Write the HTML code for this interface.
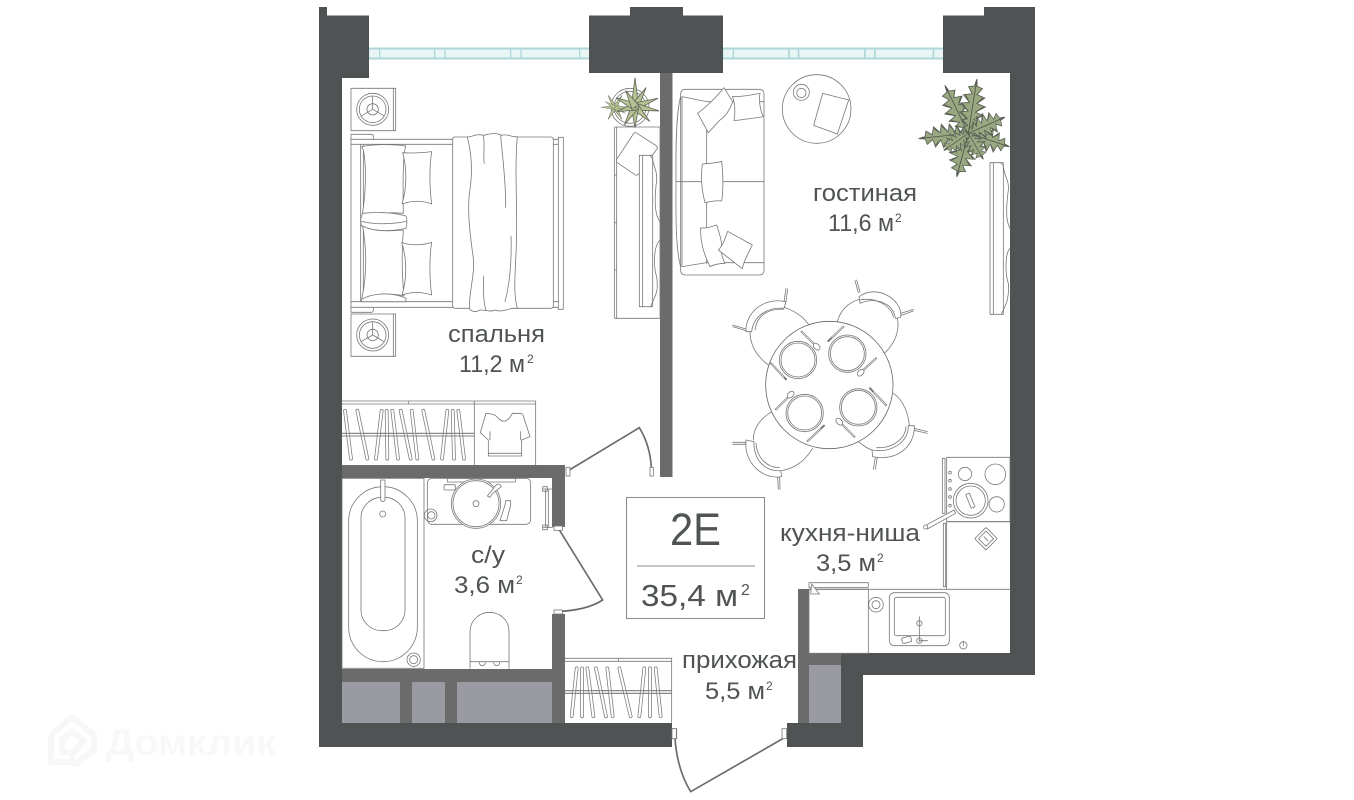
<!DOCTYPE html>
<html lang="ru"><head><meta charset="utf-8"><title>2E</title>
<style>html,body{margin:0;padding:0;background:#fff;width:1354px;height:800px;overflow:hidden}svg{display:block}
text{font-family:"Liberation Sans",sans-serif;fill:#4f5354}
.l{fill:none;stroke:#777;stroke-width:2.4;stroke-linejoin:round;stroke-linecap:round}
.w{fill:#fff}
</style></head><body>
<svg width="1354" height="800" viewBox="0 0 1354 800" xmlns="http://www.w3.org/2000/svg">
<defs>
<path id="f" d="M0 0 L10 -8 L14 -3 L22 -14 L26 -5 L36 -19 L40 -6 L52 -20 L56 -6 L68 -17 L72 -4 L84 -11 L87 -2 L100 0 L87 2 L84 11 L72 4 L68 17 L56 6 L52 20 L40 6 L36 19 L26 5 L22 14 L14 3 L10 8Z M0 0 H96 M14 -3 L22 -12 M26 -5 L36 -16 M40 -6 L52 -17 M56 -6 L68 -14 M14 3 L22 12 M26 5 L36 16 M40 6 L52 17 M56 6 L68 14" fill="#9aa881" stroke="#565c52" stroke-width="1.500"/>
<path id="s" d="M0 -7 L70 0 L0 7Z" fill="#b6c292" stroke="#5f6358" stroke-width="1.500"/>
<g id="ns"><rect x="0" y="0" width="134" height="127" class="l"/><path d="M127 0V127" class="l"/><circle cx="65" cy="63" r="48" class="l"/><circle cx="65" cy="63" r="40" class="l"/><circle cx="65" cy="63" r="17" class="l"/><path d="M65 25V63L32 82M65 63L98 82" class="l"/></g>
</defs>

<!-- watermark -->
<g fill="none" stroke="#f7f7f7" stroke-width="6" stroke-linejoin="round"><path d="M51 735 L72 717 L94 735 V750 L76 764 H72 M51 735 V762 H72 V752 H62 V740 L72 731 L84 741 L74 752"/></g>
<text x="106" y="755" font-size="37" font-weight="bold" textLength="170" lengthAdjust="spacingAndGlyphs" style="fill:#f8f8f8">Домклик</text>

<!-- windows -->
<rect x="369" y="47.500" width="220" height="12" fill="#aed6db"/>
<rect x="723" y="47.500" width="220" height="12" fill="#aed6db"/>
<g fill="#e9f5f5">
<rect x="369.300" y="49.500" width="9.700" height="8"/><rect x="380.300" y="49.500" width="53.700" height="8"/><rect x="435.300" y="49.500" width="9" height="8"/><rect x="445.700" y="49.500" width="64.300" height="8"/><rect x="511.300" y="49.500" width="9" height="8"/><rect x="521.700" y="49.500" width="57.300" height="8"/><rect x="580.300" y="49.500" width="8.700" height="8"/>
<rect x="723.300" y="49.500" width="9.400" height="8"/><rect x="734" y="49.500" width="54" height="8"/><rect x="789.700" y="49.500" width="8" height="8"/><rect x="799.300" y="49.500" width="64.700" height="8"/><rect x="865.700" y="49.500" width="8.300" height="8"/><rect x="875.700" y="49.500" width="57" height="8"/><rect x="934.300" y="49.500" width="8.700" height="8"/>
</g>

<!-- light shafts -->
<g fill="#6b6b6b">
<rect x="660" y="73" width="12.500" height="404"/>
<rect x="342" y="465" width="223" height="13"/>
<rect x="552" y="465" width="13" height="62"/>
<rect x="552" y="614" width="13" height="110"/>
<rect x="342" y="669" width="210" height="13"/>
<rect x="400" y="682" width="12" height="41"/><rect x="445" y="682" width="12" height="41"/>
<rect x="798" y="589" width="11" height="134"/>
<rect x="809" y="653" width="32" height="12"/>
</g>
<g fill="#9a9ba2">
<rect x="342" y="682" width="58" height="41"/><rect x="412" y="682" width="33" height="41"/><rect x="457" y="682" width="95" height="41"/>
<rect x="809" y="665" width="32" height="58"/>
</g>
<!-- dark walls -->
<g fill="#4f5354">
<path d="M319 7H327V15.500H369V78H342V723H672V747H319Z"/>
<path d="M589 15.500H630V7H683V15.500H723V73H589Z"/>
<path d="M943 15.500H984V7H1035V675H863V747H787V723H841V653H1010V73H943Z"/>
</g>

<!-- Zoom1: bedroom -->
<g transform="translate(310 0) scale(.33333)">
<use href="#ns" x="123" y="265"/><use href="#ns" x="123" y="942"/>
<path class="l" d="M123 433H430M123 418H430M123 905H430M123 922H430M123 403H184Q190 403 190 410V418M123 937H184Q190 937 190 930V922M123 403V937M152 433V905M160 433V905M730 418H745M730 433H745M730 905H745M730 922H745M745 412H760V928H745Z"/>
<path class="l w" d="M428 418Q428 411 436 411H722Q730 411 730 419V917Q730 925 722 925H436Q428 925 428 917Z"/>
<path class="l w" d="M472 411C490 410 500 400 520 406C540 402 555 396 575 406C590 400 605 412 622 410C612 520 625 640 618 760C615 830 610 880 622 925C600 920 580 940 555 930C535 940 515 922 500 935C485 935 480 930 478 925C478 860 498 820 488 760C480 700 472 640 478 580C485 540 490 480 472 411Z"/>
<path class="l" d="M520 406C526 440 518 470 523 490M572 406C576 460 588 540 587 622M603 708C605 770 602 840 585 905M520 828C522 870 518 900 528 932"/>
<path class="l w" d="M155 440C190 432 250 432 288 438C280 450 278 530 280 640C240 636 190 640 156 648C168 580 170 500 160 450Z"/>
<path class="l w" d="M158 640C195 636 250 636 288 648C292 660 292 670 288 685C240 695 190 695 155 678C150 665 152 650 158 640ZM155 664C200 675 250 672 288 664"/>
<path class="l w" d="M158 678C190 696 240 694 280 690C274 770 276 830 282 888C250 880 190 880 155 898C170 830 172 760 158 678Z"/>
<path class="l w" d="M155 898C190 878 250 876 288 895V905H155Z"/>
<path class="l w" d="M278 458C305 460 340 458 365 455C358 500 358 560 365 612C335 600 305 602 276 612C292 560 290 500 278 458Z"/>
<path class="l w" d="M275 728C305 738 340 735 365 727C358 770 358 835 365 885C335 875 305 875 276 885C292 835 290 770 275 728Z"/>
<rect class="l" x="913" y="381" width="137" height="574" rx="3"/>
<path class="l" d="M920 381V955M913 525H920M913 668H920M913 810H920"/>
<path class="l w" d="M978 398L1040 438Q1044 442 1040 448L985 523Q980 528 975 524L922 488Q918 484 920 478L970 402Q974 396 978 398Z"/>
<rect class="l w" x="988" y="466" width="40" height="454"/>
<path class="l" d="M998 466V920M1020 466L1028 476C1030 500 1042 510 1040 540C1035 580 1030 640 1050 665M1050 720C1030 740 1030 800 1040 830C1045 870 1040 880 1028 905L1022 920"/>
<circle class="l" cx="960" cy="322" r="57"/><circle class="l" cx="960" cy="322" r="48"/>
<use href="#s" transform="translate(915 322) rotate(0) scale(.6 .9)"/><use href="#s" transform="translate(915 322) rotate(60) scale(.6 .9)"/><use href="#s" transform="translate(915 322) rotate(120) scale(.6 .9)"/><use href="#s" transform="translate(915 322) rotate(180) scale(.6 .9)"/><use href="#s" transform="translate(915 322) rotate(240) scale(.6 .9)"/><use href="#s" transform="translate(915 322) rotate(300) scale(.6 .9)"/><use href="#s" transform="translate(915 322) rotate(30) scale(.5 .8)"/><use href="#s" transform="translate(915 322) rotate(210) scale(.5 .8)"/>
<use href="#s" transform="translate(975 320) rotate(-90) scale(1.25 1.6)"/><use href="#s" transform="translate(975 320) rotate(-60) scale(.95 1.6)"/><use href="#s" transform="translate(975 320) rotate(-20) scale(1.05 1.6)"/><use href="#s" transform="translate(975 320) rotate(10) scale(1.05 1.6)"/><use href="#s" transform="translate(975 320) rotate(45) scale(.9 1.6)"/><use href="#s" transform="translate(975 320) rotate(90) scale(.9 1.6)"/><use href="#s" transform="translate(975 320) rotate(120) scale(.9 1.6)"/><use href="#s" transform="translate(975 320) rotate(165) scale(.8 1.6)"/><use href="#s" transform="translate(975 320) rotate(205) scale(.9 1.6)"/><use href="#s" transform="translate(975 320) rotate(240) scale(.8 1.6)"/>
</g>

<!-- Zoom2: living -->
<g transform="translate(660 0) scale(.33333)">
<path class="l" d="M77 268H297Q312 268 312 283V810Q312 825 297 825H77Q62 825 62 810V283Q62 268 77 268Z"/>
<path class="l" d="M62 290C45 350 48 500 48 545C48 620 45 740 62 800M66 290V800M140 320V790M48 545H312M140 305H312M140 788H312M66 290L140 305M66 800L140 788"/>
<path class="l w" d="M192 263L218 305C210 330 195 350 180 360L145 398L113 340C140 320 170 290 192 263Z"/>
<path class="l w" d="M217 290C245 290 275 285 300 280C296 300 300 330 310 350C280 355 250 358 222 362C226 340 226 310 217 290Z"/>
<path class="l w" d="M127 492C145 490 165 490 185 484C190 530 190 570 185 603C165 600 150 605 135 608C125 570 122 530 127 492Z"/>
<path class="l w" d="M122 684C140 685 155 680 170 675C178 700 185 720 185 740C180 760 190 780 195 790C175 790 160 795 150 800C135 770 120 730 122 684Z"/>
<path class="l w" d="M203 694L277 735C265 760 250 785 247 806L175 750C190 735 195 715 203 694Z"/>
<circle class="l" cx="470" cy="327" r="103"/>
<path class="l" d="M488 280L566 300L532 402L461 376Z"/>
<circle class="l" cx="424" cy="277" r="24"/><circle class="l" cx="424" cy="279" r="14"/>
<use href="#f" transform="translate(925 400) rotate(-116) scale(1.6 1.900)"/><use href="#f" transform="translate(925 400) rotate(-81) scale(1.65 1.900)"/><use href="#f" transform="translate(925 400) rotate(174) scale(1.5 1.800)"/><use href="#f" transform="translate(925 400) rotate(105) scale(1.35 2)"/><use href="#f" transform="translate(925 400) rotate(18) scale(1.3 1.800)"/><use href="#f" transform="translate(925 400) rotate(-24) scale(1.2 1.900)"/><use href="#f" transform="translate(925 400) rotate(60) scale(.9 1.600)"/><use href="#f" transform="translate(925 400) rotate(145) scale(.9 1.600)"/>
<rect class="l w" x="990" y="488" width="40" height="455"/>
<path class="l" d="M1000 488V943M1022 488L1030 497C1032 530 1048 540 1045 570C1040 610 1035 660 1050 685M1050 745C1035 760 1035 820 1045 850C1048 890 1040 910 1030 930L1024 943"/>
</g>

<!-- Zoom3: bath -->
<g transform="translate(310 390) scale(.33333)">
<rect class="l" x="96" y="265" width="246" height="570"/>
<rect class="l" x="116" y="290" width="206" height="525" rx="103"/>
<rect class="l" x="153" y="322" width="132" height="400" rx="62"/>
<circle class="l" cx="218" cy="372" r="9"/>
<path class="l w" d="M212 270H225V330Q218 340 212 330Z" fill="#aaa"/>
<circle class="l" cx="311" cy="809" r="20"/><circle class="l" cx="311" cy="809" r="12"/>
<rect class="l" x="352" y="265" width="310" height="138" rx="14"/>
<rect class="l" x="412" y="265" width="204" height="11"/>
<circle class="l w" cx="498" cy="341" r="74"/><circle class="l" cx="498" cy="341" r="69"/><circle class="l" cx="498" cy="341" r="9"/>
<rect class="l" x="402" y="284" width="34" height="16" rx="4"/>
<path class="l w" d="M532 318L560 283Q570 280 574 290L548 310L540 322Z"/>
<path class="l w" d="M587 332H602V345L590 392H570L585 345Z"/>
<circle class="l" cx="362" cy="376" r="19"/><circle class="l" cx="364" cy="376" r="11"/>
<path class="l" d="M480 835V725C480 690 510 667 538 667C570 667 597 690 597 725V835M480 815H597"/>
<path class="l" d="M508 818A9 9 0 0 0 526 818M551 818A9 9 0 0 0 569 818"/>
<path class="l" d="M707 297V412M715 297V412M698 297H727M698 412H727"/><rect class="l" x="698" y="290" width="14" height="14"/><rect class="l" x="698" y="405" width="14" height="14"/>
<!-- wardrobe 1 -->
<path class="l" d="M96 33H677V225M96 42H677M295 33V42M493 33V225M96 130H493M96 138H493"/>
<g stroke="#7a7a7a" stroke-width="11" stroke-linecap="round"><path d="M105 62L123 206M142 62L172 206M215 62L198 206M230 62L232 206M247 62L264 206M272 62L302 206M305 62L322 206M340 62L370 206M412 62L396 206M428 62L432 206M445 62L462 206"/></g>
<g stroke="#fff" stroke-width="6.500" stroke-linecap="round"><path d="M105 62L123 206M142 62L172 206M215 62L198 206M230 62L232 206M247 62L264 206M272 62L302 206M305 62L322 206M340 62L370 206M412 62L396 206M428 62L432 206M445 62L462 206"/></g>
<path class="l" d="M96 130H493M96 138H493"/>
<path class="l" d="M528 70C545 72 555 72 565 85C580 100 595 95 607 70C620 70 630 70 638 72L660 140L635 150V198H535V150L511 128Z"/><path class="l" d="M535 190H635M540 125V150M632 125V150"/>
<!-- wardrobe 2 -->
<path class="l" d="M765 805H1085V998M765 814H1085M925 805V814M765 902H1085M765 910H1085"/>
<g stroke="#7a7a7a" stroke-width="11" stroke-linecap="round"><path d="M800 835L785 979M816 835L816 979M832 835L850 979M858 835L888 979M892 835L908 979M928 835L962 979M1003 835L988 979M1020 835L1020 979M1037 835L1052 979"/></g>
<g stroke="#fff" stroke-width="6.500" stroke-linecap="round"><path d="M800 835L785 979M816 835L816 979M832 835L850 979M858 835L888 979M892 835L908 979M928 835L962 979M1003 835L988 979M1020 835L1020 979M1037 835L1052 979"/></g>
<path class="l" d="M765 902H1085M765 910H1085"/>
<!-- doors -->
<path fill="none" stroke="#6b6b6b" stroke-width="5" d="M778 240L988 113Q1020 165 1024 232M745 415L878 630Q830 662 735 665"/>
<g fill="#fff" stroke="#777" stroke-width="2.400"><rect x="768" y="232" width="12" height="26"/><rect x="1020" y="232" width="10" height="26"/><rect x="732" y="408" width="25" height="13"/><rect x="732" y="660" width="25" height="12"/><rect x="1087" y="1016" width="13" height="30"/></g>
</g>

<!-- Zoom4: dining -->
<g transform="translate(660 280) scale(.33333)">
<g class="l" fill="#fff">
<path d="M258 155C255 100 310 50 378 65L372 85C320 80 280 110 275 155Z"/><path d="M285 150C290 110 320 85 370 88"/><path d="M372 82C400 90 430 110 445 132M270 155C270 190 285 225 325 255"/><path d="M378 25L372 65M383 27L378 65M218 135L258 147M218 140L258 152"/>
<path d="M597 50C650 10 730 60 722 112L706 115C700 70 650 50 600 70Z"/><path d="M600 60C650 50 695 80 700 112"/><path d="M597 58C560 70 540 95 532 125M712 115C720 150 705 190 675 218"/><path d="M585 2L595 38M590 0L600 36M760 88L722 100M760 93L724 106"/>
<path d="M763 437C765 500 710 545 638 530L636 510C690 520 745 490 745 437Z"/><path d="M738 440C735 480 695 505 650 503"/><path d="M748 437C745 400 730 360 700 340M636 510C620 505 600 490 590 480"/><path d="M802 455L763 445M802 460L763 451M640 568L646 532M646 568L652 532"/>
<path d="M258 480C250 550 310 600 365 590L362 572C315 575 280 540 282 485Z"/><path d="M288 490C290 530 320 565 358 562"/><path d="M365 572C400 565 430 550 458 505M280 480C280 450 295 420 335 395"/><path d="M218 487L258 487M218 493L258 493M355 628L353 592M360 628L359 592"/>
</g>
<circle cx="508" cy="315" r="191" fill="#fff" stroke="#666" stroke-width="2.400"/>
<g class="l">
<circle cx="414" cy="240" r="56"/><circle cx="414" cy="240" r="51"/><circle cx="562" cy="221" r="56"/><circle cx="562" cy="221" r="51"/><circle cx="595" cy="382" r="56"/><circle cx="595" cy="382" r="51"/><circle cx="434" cy="399" r="56"/><circle cx="434" cy="399" r="51"/>
<path stroke-width="6" d="M425 155L463 193M333 250L378 298M550 140L505 183M648 235L610 270M630 325L678 375M583 470L545 432M348 388L386 350M443 483L492 437"/>
</g>
<g stroke="#fff" stroke-width="2" fill="none"><path d="M425 155L463 193M333 250L372 291M550 140L515 173M648 235L610 270M640 335L678 375M583 470L545 432M348 388L386 350M443 483L482 446"/></g>
<g class="l w"><ellipse cx="470" cy="200" rx="8" ry="12" transform="rotate(-45 470 200)"/><ellipse cx="602" cy="278" rx="8" ry="12" transform="rotate(45 602 278)"/><ellipse cx="538" cy="425" rx="8" ry="12" transform="rotate(-45 538 425)"/><ellipse cx="392" cy="344" rx="8" ry="12" transform="rotate(45 392 344)"/></g>
<!-- stove -->
<rect class="l" x="860" y="532" width="190" height="193"/><path class="l" d="M847 535H855V700H847Z"/>
<circle class="l" cx="915" cy="582" r="20"/><circle class="l" cx="1006" cy="583" r="31"/><circle class="l" cx="1010" cy="673" r="23"/>
<circle class="l w" cx="932" cy="662" r="52"/><circle class="l" cx="932" cy="662" r="44"/>
<rect class="l" x="925" y="640" width="12" height="44" transform="rotate(-22 931 662)"/>
<circle class="l" cx="870" cy="578" r="4"/><circle class="l" cx="870" cy="602" r="4"/><circle class="l" cx="870" cy="627" r="4"/><circle class="l" cx="870" cy="651" r="4"/><circle class="l" cx="870" cy="677" r="4"/>
</g>

<!-- Zoom5: kitchen -->
<g transform="translate(660 500) scale(.33333)">
<path class="l w" d="M797 76L882 30L887 40L802 87Z"/><circle class="l w" cx="797" cy="81" r="6"/>
<path class="l" d="M850 70H857V260H850ZM860 65H1050M860 65V268M447 268H1050"/>
<rect class="l" x="954" y="92" width="48" height="48" rx="4" transform="rotate(45 978 116)"/><rect class="l" x="962" y="100" width="32" height="32" transform="rotate(45 978 116)"/><path class="l" d="M972 110L984 122"/>
<rect class="l" x="447" y="268" width="178" height="192"/>
<rect class="l w" x="447" y="248" width="178" height="15"/><path class="l w" d="M455 252L478 282H452Z"/>
<circle class="l" cx="648" cy="314" r="22"/><circle class="l" cx="648" cy="314" r="12"/>
<rect class="l" x="688" y="278" width="180" height="159" rx="15"/><rect class="l" x="703" y="292" width="153" height="115" rx="6"/>
<path class="l" stroke-width="5" d="M778 350V425M778 422H803"/><circle class="l" cx="778" cy="370" r="8"/><circle class="l" cx="778" cy="422" r="8"/>
<rect class="l" x="726" y="411" width="28" height="17" rx="4" transform="rotate(-15 740 420)"/>
<circle class="l" cx="910" cy="436" r="11"/><path class="l" d="M910 424V438"/>
<path fill="none" stroke="#6b6b6b" stroke-width="5" d="M370 715L92 875Q52 810 45 716"/>
<g fill="#fff" stroke="#777" stroke-width="2.400"><rect x="366" y="686" width="14" height="30"/><rect x="36" y="686" width="13" height="30"/></g>
</g>

<!-- info box -->
<rect x="626.500" y="497.500" width="138" height="121" fill="#fff" fill-opacity="0" stroke="#8a8c8c"/>
<path d="M637 566H755" stroke="#8a8c8c"/>
<text x="670" y="545" font-size="45" textLength="51" lengthAdjust="spacingAndGlyphs">2E</text>
<text x="641" y="606" font-size="31" textLength="97" lengthAdjust="spacingAndGlyphs">35,4 м</text>
<text x="741" y="595" font-size="16">2</text>

<!-- labels -->
<g font-size="24">
<text x="813" y="201" textLength="104" lengthAdjust="spacingAndGlyphs">гостиная</text>
<text x="828" y="231" textLength="66" lengthAdjust="spacingAndGlyphs">11,6 м</text>
<text x="448" y="342" textLength="97" lengthAdjust="spacingAndGlyphs">спальня</text>
<text x="459" y="372" textLength="66" lengthAdjust="spacingAndGlyphs">11,2 м</text>
<text x="471" y="563" textLength="34" lengthAdjust="spacingAndGlyphs">с/у</text>
<text x="454" y="593" textLength="61" lengthAdjust="spacingAndGlyphs">3,6 м</text>
<text x="780" y="541" textLength="140" lengthAdjust="spacingAndGlyphs">кухня-ниша</text>
<text x="816" y="571" textLength="60" lengthAdjust="spacingAndGlyphs">3,5 м</text>
<text x="682" y="668" textLength="115" lengthAdjust="spacingAndGlyphs">прихожая</text>
<text x="705" y="699" textLength="60" lengthAdjust="spacingAndGlyphs">5,5 м</text>
</g>
<g font-size="12">
<text x="895" y="222">2</text><text x="527" y="363">2</text><text x="516" y="584">2</text><text x="877" y="562">2</text><text x="766" y="690">2</text>
</g>
</svg>
</body></html>
